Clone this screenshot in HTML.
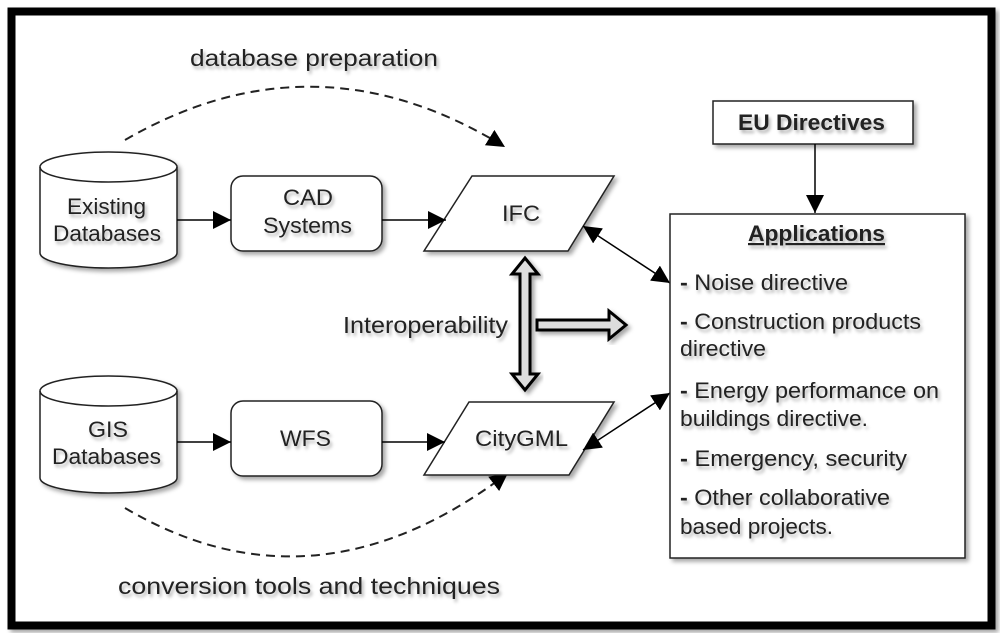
<!DOCTYPE html>
<html><head><meta charset="utf-8"><style>
html,body{margin:0;padding:0;background:#fff}
svg{display:block}
text{font-family:"Liberation Sans",sans-serif;fill:#222}
</style></head><body>
<svg width="1000" height="633" viewBox="0 0 1000 633" xmlns="http://www.w3.org/2000/svg">
<defs>
<filter id="sh" x="-20%" y="-20%" width="140%" height="140%">
<feDropShadow dx="3" dy="3" stdDeviation="2" flood-color="#000" flood-opacity="0.35"/>
</filter>
<filter id="tsh" x="-10%" y="-30%" width="120%" height="160%">
<feDropShadow dx="2" dy="3" stdDeviation="1.5" flood-color="#000" flood-opacity="0.3"/>
</filter>
<marker id="ahb" viewBox="0 0 10 10" refX="10" refY="5" markerWidth="18" markerHeight="18" markerUnits="userSpaceOnUse" orient="auto-start-reverse">
<path d="M0,0 L10,5 L0,10 z" fill="#000"/>
</marker>
</defs>
<rect x="0" y="0" width="1000" height="633" fill="#fff"/>
<rect x="11.5" y="11.5" width="980" height="614" fill="#fff" stroke="#000" stroke-width="8" filter="url(#sh)"/>

<path d="M125,140 Q315,30 505,147" fill="none" stroke="#222" stroke-width="2" stroke-dasharray="9,6" marker-end="url(#ahb)"/>
<path d="M125,508 Q315,620 508,473" fill="none" stroke="#222" stroke-width="2" stroke-dasharray="9,6" marker-end="url(#ahb)"/>
<g filter="url(#tsh)" font-size="23">
<text x="190" y="66" textLength="248" lengthAdjust="spacingAndGlyphs">database preparation</text>
<text x="118" y="594" textLength="382" lengthAdjust="spacingAndGlyphs">conversion tools and techniques</text>
</g>

<g filter="url(#sh)">
<path d="M40,167 L40,253 A68.5,15 0 0 0 177,253 L177,167 A68.5,15 0 0 0 40,167 Z" fill="#fff" stroke="#222" stroke-width="1.5"/>
<path d="M40,167 A68.5,15 0 0 0 177,167" fill="none" stroke="#222" stroke-width="1.5"/>
</g>
<g filter="url(#tsh)" font-size="22">
<text x="67" y="214" textLength="79" lengthAdjust="spacingAndGlyphs">Existing</text>
<text x="53" y="241" textLength="108" lengthAdjust="spacingAndGlyphs">Databases</text>
</g>

<g filter="url(#sh)">
<path d="M40,391 L40,478 A68.5,15 0 0 0 177,478 L177,391 A68.5,15 0 0 0 40,391 Z" fill="#fff" stroke="#222" stroke-width="1.5"/>
<path d="M40,391 A68.5,15 0 0 0 177,391" fill="none" stroke="#222" stroke-width="1.5"/>
</g>
<g filter="url(#tsh)" font-size="22">
<text x="88" y="437" textLength="40" lengthAdjust="spacingAndGlyphs">GIS</text>
<text x="52" y="464" textLength="109" lengthAdjust="spacingAndGlyphs">Databases</text>
</g>

<rect x="231" y="176" width="151" height="75" rx="12" fill="#fff" stroke="#222" stroke-width="1.5" filter="url(#sh)"/>
<rect x="231" y="401" width="151" height="75" rx="12" fill="#fff" stroke="#222" stroke-width="1.5" filter="url(#sh)"/>
<g filter="url(#tsh)" font-size="22">
<text x="283" y="205" textLength="50" lengthAdjust="spacingAndGlyphs">CAD</text>
<text x="263" y="233" textLength="89" lengthAdjust="spacingAndGlyphs">Systems</text>
<text x="280" y="446" textLength="51" lengthAdjust="spacingAndGlyphs">WFS</text>
</g>

<path d="M472,176 L614,176 L568,251 L424,251 Z" fill="#fff" stroke="#222" stroke-width="1.5" filter="url(#sh)"/>
<path d="M469,402 L614,402 L569,475 L424,475 Z" fill="#fff" stroke="#222" stroke-width="1.5" filter="url(#sh)"/>
<g filter="url(#tsh)" font-size="22">
<text x="502" y="221" textLength="38" lengthAdjust="spacingAndGlyphs">IFC</text>
<text x="475" y="446" textLength="93" lengthAdjust="spacingAndGlyphs">CityGML</text>
</g>

<line x1="177" y1="220" x2="231" y2="220" stroke="#000" stroke-width="1.5" marker-end="url(#ahb)"/>
<line x1="382" y1="220" x2="446" y2="220" stroke="#000" stroke-width="1.5" marker-end="url(#ahb)"/>
<line x1="177" y1="442" x2="231" y2="442" stroke="#000" stroke-width="1.5" marker-end="url(#ahb)"/>
<line x1="382" y1="442" x2="445" y2="442" stroke="#000" stroke-width="1.5" marker-end="url(#ahb)"/>

<line x1="583" y1="226" x2="670" y2="283" stroke="#000" stroke-width="1.5" marker-start="url(#ahb)" marker-end="url(#ahb)"/>
<line x1="583" y1="450" x2="670" y2="393" stroke="#000" stroke-width="1.5" marker-start="url(#ahb)" marker-end="url(#ahb)"/>

<path d="M525,258 L538,274 L530,274 L530,374 L538,374 L525,390 L512,374 L520,374 L520,274 L512,274 Z" fill="#ddd" stroke="#000" stroke-width="3" filter="url(#sh)"/>
<path d="M537,320 L609,320 L609,311 L626,325 L609,339 L609,330 L537,330 Z" fill="#ddd" stroke="#000" stroke-width="3" filter="url(#sh)"/>
<text x="343" y="333" font-size="23" textLength="165" lengthAdjust="spacingAndGlyphs" filter="url(#tsh)">Interoperability</text>

<rect x="713" y="101" width="200" height="43" fill="#fff" stroke="#222" stroke-width="1.5" filter="url(#sh)"/>
<text x="738" y="130" font-size="22" font-weight="bold" textLength="147" lengthAdjust="spacingAndGlyphs" filter="url(#tsh)">EU Directives</text>
<line x1="815" y1="144" x2="815" y2="213" stroke="#000" stroke-width="1.5" marker-end="url(#ahb)"/>

<rect x="670" y="214" width="295" height="344" fill="#fff" stroke="#222" stroke-width="1.5" filter="url(#sh)"/>
<g filter="url(#tsh)" font-size="22">
<text x="748" y="241" font-weight="bold" text-decoration="underline" textLength="137" lengthAdjust="spacingAndGlyphs">Applications</text>
<text x="680" y="290" textLength="168" lengthAdjust="spacingAndGlyphs"><tspan font-weight="bold">-</tspan> Noise directive</text>
<text x="680" y="329" textLength="241" lengthAdjust="spacingAndGlyphs"><tspan font-weight="bold">-</tspan> Construction products</text>
<text x="680" y="356" textLength="86" lengthAdjust="spacingAndGlyphs">directive</text>
<text x="680" y="398" textLength="259" lengthAdjust="spacingAndGlyphs"><tspan font-weight="bold">-</tspan> Energy performance on</text>
<text x="680" y="426" textLength="188" lengthAdjust="spacingAndGlyphs">buildings directive.</text>
<text x="680" y="466" textLength="227" lengthAdjust="spacingAndGlyphs"><tspan font-weight="bold">-</tspan> Emergency, security</text>
<text x="680" y="505" textLength="210" lengthAdjust="spacingAndGlyphs"><tspan font-weight="bold">-</tspan> Other collaborative</text>
<text x="680" y="534" textLength="153" lengthAdjust="spacingAndGlyphs">based projects.</text>
</g>
</svg>
</body></html>
